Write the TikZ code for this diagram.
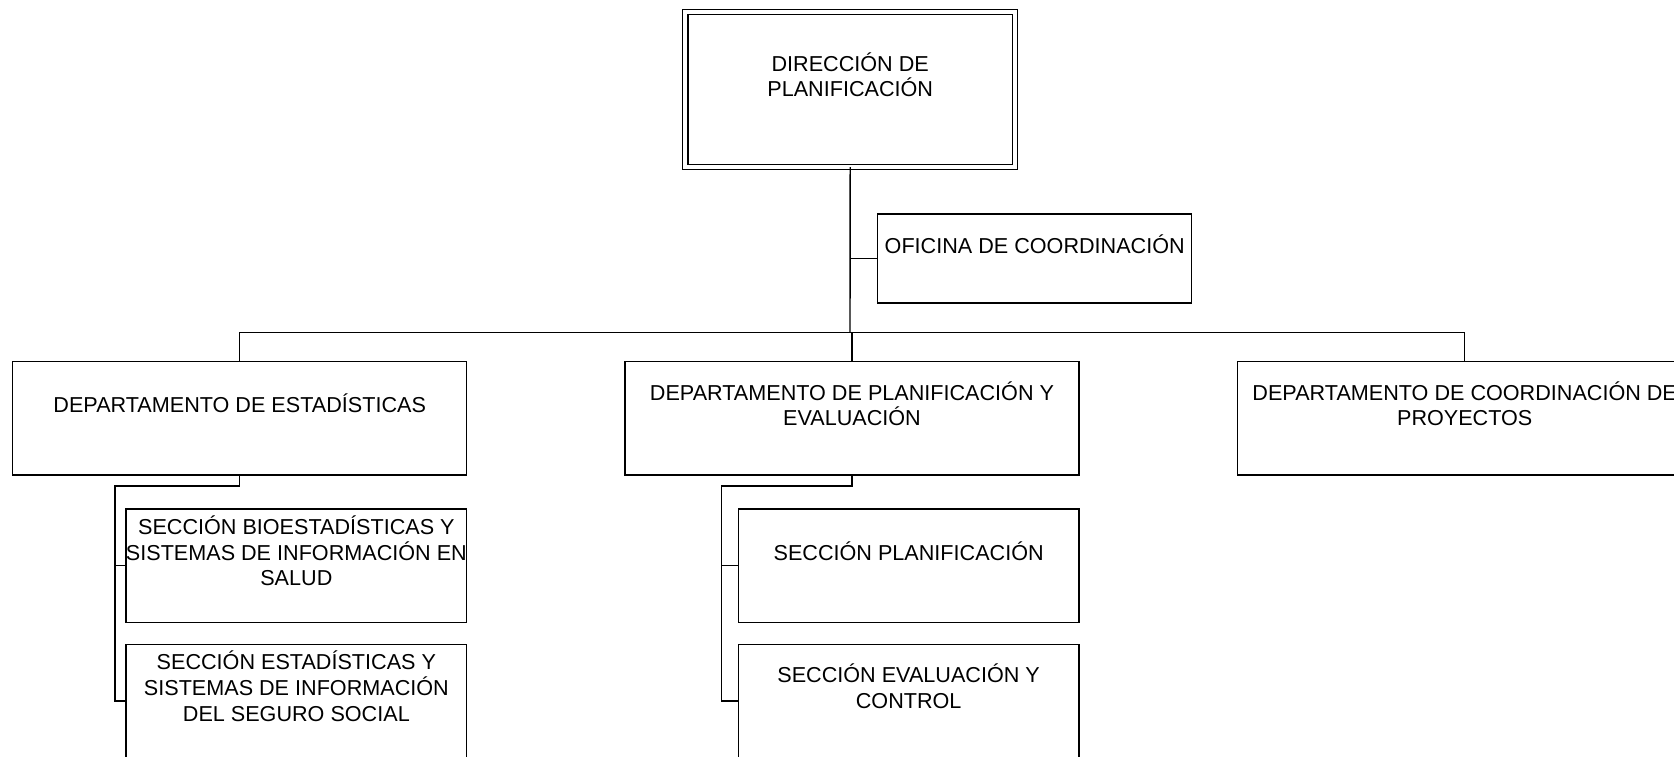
\documentclass[tikz,border=0pt]{standalone}
\usepackage{fontspec}
\setmainfont{Liberation Sans}

\begin{document}
\begin{tikzpicture}[x=1pt, y=-1pt, line width=1.4pt,
    caja/.style={draw, anchor=north west, inner sep=0pt, outer sep=0pt,
        minimum width=454pt, minimum height=113.3pt},
    seccion/.style={caja, minimum width=340.7pt},
    texto/.style={align=center, inner sep=0pt, yshift=11pt,
        font=\fontsize{21.6}{25.6}\selectfont,
        execute at begin node=\strut, execute at end node=\strut}]
    \useasboundingbox (0,0) rectangle (1674,756);
    \clip (0,0) rectangle (1674,756);
    % cajas
    \node[draw, double, double distance=3.9pt, inner sep=0pt, outer sep=0pt,
        minimum width=329.7pt, minimum height=155pt] (dir) at (850.2,89.5) {};
    \node[caja, minimum width=314pt, minimum height=89pt] (ofi) at (877.7,214) {};
    \node[caja] (est) at (12.7,361.7) {};
    \node[caja] (pla) at (625,361.7) {};
    \node[caja] (coo) at (1237.7,361.7) {};
    \node[seccion] (bio) at (126,509) {};
    \node[seccion] (sss) at (126,644.3) {};
    \node[seccion] (spl) at (738.3,509) {};
    \node[seccion] (sev) at (738.3,644.3) {};
    % textos
    \node[texto] (dir-t) at (dir.center) {DIRECCIÓN DE\\PLANIFICACIÓN};
    \node[texto] (ofi-t) at (ofi.center) {OFICINA DE COORDINACIÓN};
    \node[texto] (est-t) at (est.center) {DEPARTAMENTO DE ESTADÍSTICAS};
    \node[texto] (pla-t) at (pla.center) {DEPARTAMENTO DE PLANIFICACIÓN Y\\EVALUACIÓN};
    \node[texto] (coo-t) at (coo.center) {DEPARTAMENTO DE COORDINACIÓN DE\\PROYECTOS};
    \node[texto] (bio-t) at (bio.center) {SECCIÓN BIOESTADÍSTICAS Y\\SISTEMAS DE INFORMACIÓN EN\\SALUD};
    \node[texto] (sss-t) at (sss.center) {SECCIÓN ESTADÍSTICAS Y\\SISTEMAS DE INFORMACIÓN\\DEL SEGURO SOCIAL};
    \node[texto] (spl-t) at (spl.center) {SECCIÓN PLANIFICACIÓN};
    \node[texto] (sev-t) at (sev.center) {SECCIÓN EVALUACIÓN Y\\CONTROL};
    % conectores
    \coordinate (bus) at (850,332.5);
    \coordinate (est-r) at (115,486);
    \coordinate (pla-r) at (721.7,486);
    \draw (dir.south) -- (bus);
    \draw (ofi.west) -- (ofi.west -| dir.south);
    \draw (est.north) |- (bus) -| (coo.north);
    \draw (bus) -| (pla.north);
    \draw (est.south) |- (est-r) |- (bio.west);
    \draw (est-r) |- (sss.west);
    \draw (pla.south) |- (pla-r) |- (spl.west);
    \draw (pla-r) |- (sev.west);
\end{tikzpicture}
\end{document}
